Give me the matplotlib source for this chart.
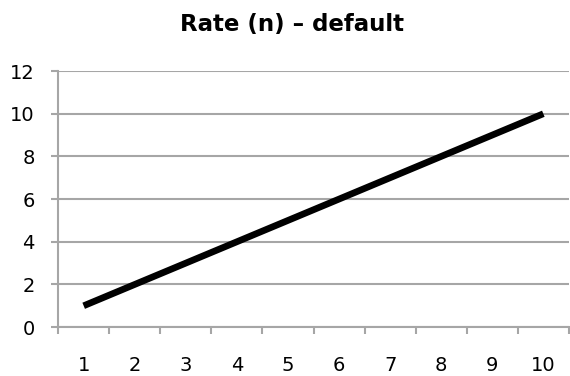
import matplotlib.pyplot as plt
import numpy as np

# series data
categories = [1, 2, 3, 4, 5, 6, 7, 8, 9, 10]
rate_values = [1, 2, 3, 4, 5, 6, 7, 8, 9, 10]
y_ticks = [0, 2, 4, 6, 8, 10, 12]

GRID_COLOR = '#a6a6a6'

fig = plt.figure(figsize=(5.7, 3.76), dpi=100)
ax = fig.add_axes([0.102, 0.130, 0.896, 0.681])

x = np.arange(len(categories))
ax.plot(x, rate_values, color='black', linewidth=4.8, solid_capstyle='butt')

ax.set_xlim(-0.5, len(categories) - 0.5)
ax.set_ylim(0, 12)
ax.set_yticks(y_ticks)
ax.set_yticklabels([str(v) for v in y_ticks])
ax.set_xticks(x)
ax.set_xticklabels([str(c) for c in categories])
ax.set_xticks(np.arange(len(categories) + 1) - 0.5, minor=True)

ax.grid(axis='y', color=GRID_COLOR, linewidth=1.5)
ax.set_axisbelow(True)

for side in ['top', 'right']:
    ax.spines[side].set_visible(False)
for side in ['left', 'bottom']:
    ax.spines[side].set_color(GRID_COLOR)
    ax.spines[side].set_linewidth(1.5)

ax.tick_params(axis='y', which='major', length=5, width=1.5, color=GRID_COLOR,
               labelsize=14, pad=12)
ax.tick_params(axis='x', which='major', length=0, labelsize=14, pad=21)
ax.tick_params(axis='x', which='minor', length=5, width=1.5, color=GRID_COLOR)

fig.text(0.512, 0.936, 'Rate (n) \u2013 default', fontsize=16.5, fontweight='bold',
         ha='center', va='center')

fig.savefig('out.png', dpi=100)
